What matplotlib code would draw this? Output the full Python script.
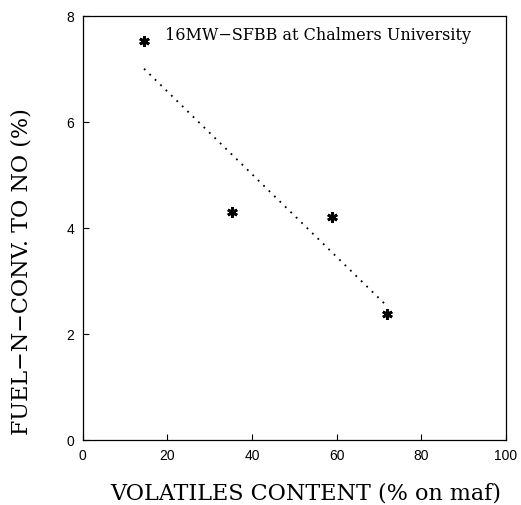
import matplotlib
matplotlib.use("Agg")
import matplotlib.pyplot as plt

# data
volatiles = [14.5, 35.4, 58.9, 71.9]
fuel_n_conv = [7.52, 4.30, 4.20, 2.37]
trend_x = [14.5, 71.7]
trend_y = [7.0, 2.54]
x_ticks = [0, 20, 40, 60, 80, 100]
y_ticks = [0, 2, 4, 6, 8]
title_text = "16MW\u2212SFBB at Chalmers University"
x_label = "VOLATILES CONTENT (% on maf)"
y_label = "FUEL\u2212N\u2212CONV. TO NO (%)"

fig = plt.figure(figsize=(5.21, 5.06), dpi=100)
ax = fig.add_axes([82.7/521, (506-440.7)/506, 423/521, 424/506])

ax.plot(trend_x, trend_y, linestyle=(0, (1, 3.2)), color="black", linewidth=1.3)
ax.plot(volatiles, fuel_n_conv, linestyle="none", marker=(6, 2, 0),
        markersize=7.5, markeredgewidth=2.0, color="black")

ax.set_xlim(0, 100)
ax.set_ylim(0, 8)
ax.set_xticks(x_ticks)
ax.set_yticks(y_ticks)
ax.tick_params(direction="in", length=4, width=0.8, top=False, right=False,
               labelsize=10, pad=6)
for lab in ax.get_xticklabels() + ax.get_yticklabels():
    lab.set_family("Liberation Sans")
for s in ax.spines.values():
    s.set_linewidth(0.9)
    s.set_color("black")

ax.text(0.557, 0.975, title_text, transform=ax.transAxes, ha="center", va="top",
        family="DejaVu Serif", fontsize=11.5)

fig.text(306/521, 1 - 494/506, x_label, ha="center", va="center",
         family="DejaVu Serif", fontsize=16)
fig.text(22/521, 1 - 272/506, y_label, ha="center", va="center", rotation=90,
         family="DejaVu Serif", fontsize=16)

fig.savefig("out.png", dpi=100)
